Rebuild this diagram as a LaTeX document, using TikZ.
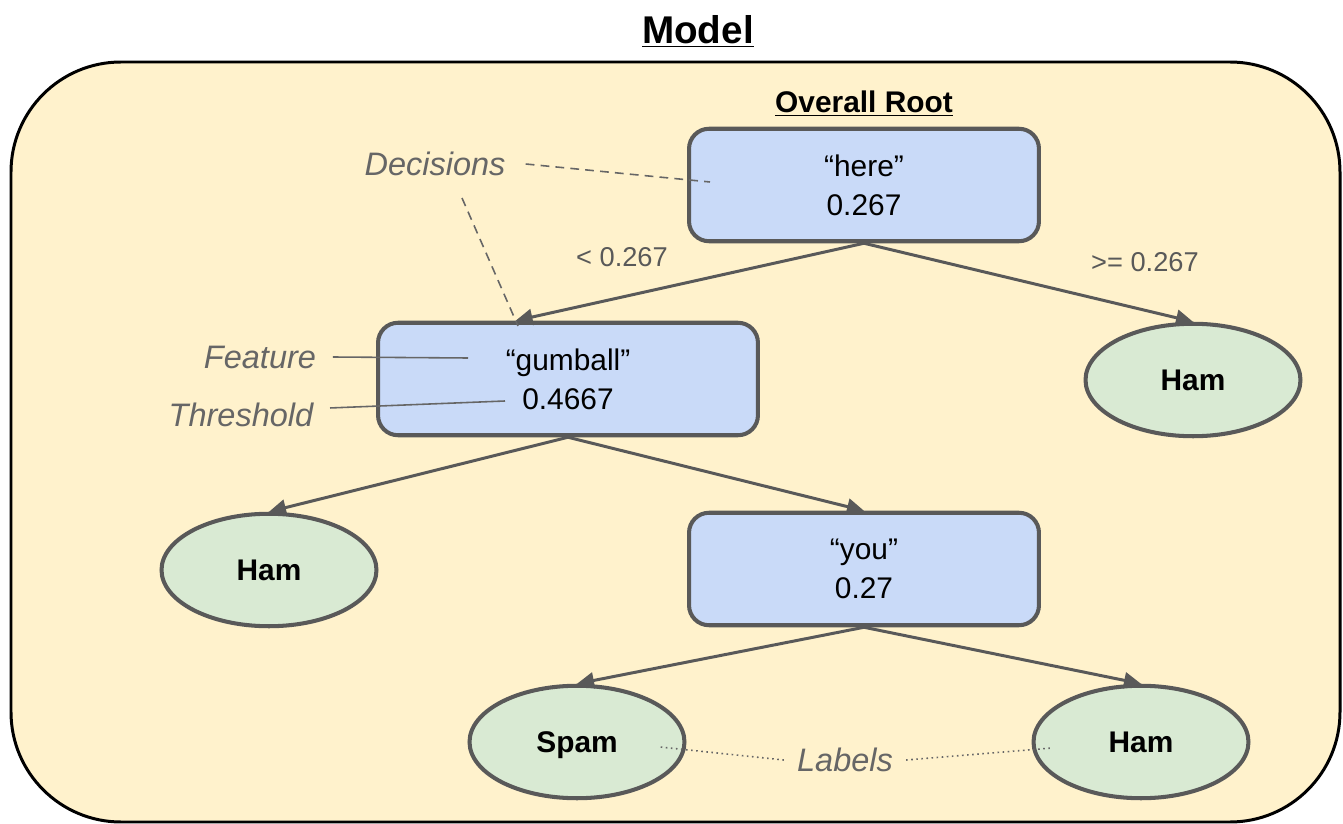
\documentclass[tikz,border=0pt]{standalone}
\usepackage{fontspec}
\setmainfont{Liberation Sans}
\usetikzlibrary{arrows.meta,shapes.geometric}
\definecolor{modelbg}{HTML}{FFF2CC}
\definecolor{splitfill}{HTML}{C9DAF8}
\definecolor{leaffill}{HTML}{D9EAD3}
\definecolor{edgegray}{HTML}{595959}
\definecolor{notegray}{HTML}{666666}
\begin{document}
\begin{tikzpicture}[x=0.02cm,y=-0.02cm,
    split/.style={draw=edgegray, fill=splitfill, line width=2.3pt, rounded corners=0.4cm,
      minimum width=7cm, minimum height=2.25cm, align=center, font=\fontsize{17}{22}\selectfont},
    leaf/.style={ellipse, draw=edgegray, fill=leaffill, line width=2.3pt, inner sep=0pt,
      minimum width=4.3cm, minimum height=2.25cm, text height=12.2pt, text depth=0pt,
      font=\fontsize{17}{20}\selectfont\bfseries},
    note/.style={text=notegray, font=\fontsize{18.5}{22}\selectfont\itshape},
    cond/.style={text=edgegray, font=\fontsize{15.5}{18}\selectfont}]
  \useasboundingbox (0,0) rectangle (1343,824);
  \draw[line width=1.7pt, fill=modelbg, rounded corners=2.2cm] (11,62) rectangle (1340,822);
  \node[font=\fontsize{22}{26}\selectfont\bfseries] (title) at (698,31) {\underline{Model}};
  \node[font=\fontsize{17}{20}\selectfont\bfseries] (rootname) at (864,104) {\underline{Overall Root}};
  % decisions and leaves
  \node[split] (root) at (864,185) {“here”\\0.267};
  \node[split, minimum width=7.6cm] (gumball) at (568,379) {“gumball”\\0.4667};
  \node[split] (you) at (864,569) {“you”\\0.27};
  \node[leaf] (hamR) at (1193,380) {Ham};
  \node[leaf] (hamL) at (269,570) {Ham};
  \node[leaf] (spam) at (577,742) {Spam};
  \node[leaf] (hamBR) at (1141,742) {Ham};
  \node[cond] (lt) at (622,257) {< 0.267};
  \node[cond] (ge) at (1145,262) {>= 0.267};
  \begin{scope}[-{Triangle[length=0.34cm,width=0.32cm]}, draw=edgegray, line width=1.7pt]
    \draw (root.south) -- (gumball.132);
    \draw (root.south) -- (hamR.north);
    \draw (gumball.south) -- (hamL.north);
    \draw (gumball.south) -- (you.north);
    \draw (you.south) -- (spam.north);
    \draw (you.south) -- (hamBR.north);
  \end{scope}
  % annotations
  \node[note] (decisions) at (435,164) {Decisions};
  \node[note] (feature) at (260,357) {Feature};
  \node[note] (threshold) at (241,415) {Threshold};
  \node[note] (labels) at (845,760) {Labels};
  \coordinate (rootPt) at (710,182);
  \coordinate (decTail) at (462,198);
  \coordinate (gumPt) at (518,326);
  \coordinate (featPt) at (468,358);
  \coordinate (threshPt) at (505,401);
  \coordinate (spamPt) at (660,747);
  \coordinate (hamPt) at (1052,748);
  \begin{scope}[draw=notegray, line width=0.9pt]
    \draw[dash pattern=on 5pt off 3.5pt] ([xshift=8pt]decisions.east) -- (rootPt);
    \draw[dash pattern=on 5pt off 3.5pt] (decTail) -- (gumPt);
    \draw ([xshift=6pt]feature.east) -- (featPt);
    \draw ([xshift=6pt,yshift=4pt]threshold.east) -- (threshPt);
    \draw[dotted] ([xshift=-4pt]labels.west) -- (spamPt);
    \draw[dotted] ([xshift=4pt]labels.east) -- (hamPt);
  \end{scope}
\end{tikzpicture}
\end{document}
